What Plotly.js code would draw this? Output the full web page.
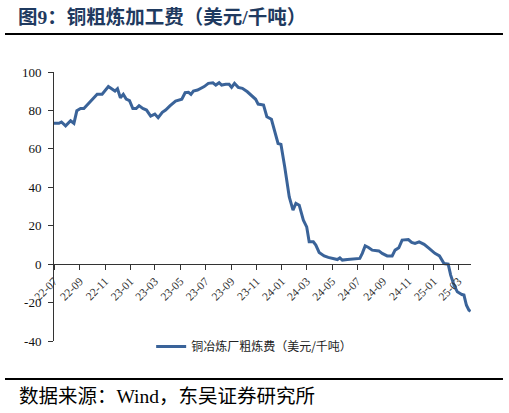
<!DOCTYPE html>
<html>
<head>
<meta charset="utf-8">
<script src="https://cdn.plot.ly/plotly-3.0.1.min.js"></script>
<style>html,body{margin:0;padding:0;background:#fff;}#chart{width:509px;height:413px;}</style>
</head>
<body>
<div id="chart"></div>
<script>
var dates = ["2022-07-01","2022-07-13","2022-07-19","2022-07-29","2022-08-10","2022-08-18","2022-08-25","2022-09-03","2022-09-11","2022-09-23",
"2022-10-13","2022-10-25","2022-11-09","2022-11-25","2022-12-01","2022-12-08","2022-12-15","2022-12-22","2022-12-30","2023-01-07",
"2023-01-15","2023-01-22","2023-01-31","2023-02-09","2023-02-19","2023-03-01","2023-03-09","2023-03-19","2023-03-27","2023-04-07",
"2023-04-20","2023-05-05","2023-05-13","2023-05-21","2023-05-27","2023-06-02","2023-06-12","2023-06-28","2023-07-08","2023-07-19",
"2023-07-26","2023-08-03","2023-08-09","2023-08-19","2023-08-27","2023-09-02","2023-09-09","2023-09-18","2023-09-28","2023-10-10",
"2023-10-22","2023-10-30","2023-11-05","2023-11-18","2023-11-26","2023-12-07","2023-12-23","2023-12-30","2024-01-08","2024-01-19",
"2024-01-28","2024-02-04","2024-02-12","2024-02-22","2024-03-01","2024-03-07","2024-03-17","2024-03-23","2024-03-31","2024-04-12",
"2024-04-22","2024-05-06","2024-05-14","2024-05-20","2024-05-26","2024-06-07","2024-06-23","2024-07-07","2024-07-13","2024-07-20",
"2024-07-28","2024-08-06","2024-08-22","2024-08-30","2024-09-11","2024-09-23","2024-09-30","2024-10-09","2024-10-17","2024-11-01",
"2024-11-09","2024-11-17","2024-11-27","2024-12-09","2024-12-21","2025-01-04","2025-01-15","2025-01-26","2025-02-05","2025-02-11",
"2025-02-19","2025-02-27","2025-03-10","2025-03-15","2025-03-21","2025-03-27","2025-03-31"];
var tcFees = [73.3,73.3,74,72,74.6,73.3,79.8,81,81,83.7,
88.4,88.4,92.4,90.1,91.3,86.6,88.4,85.9,85.1,81,
81,82.5,81,80.2,77.1,78.1,76.2,79,80.2,82.5,
84.9,85.8,89.2,89.4,88.4,90.1,90.6,92.4,94.1,94.4,
93.2,94.4,93.2,93.6,93.6,92,94.1,92,91.5,89.7,
87.1,85.8,83.3,82.8,76.7,75.4,62.8,62.3,50.7,35,
28.1,31.6,30.7,22.9,19.4,11.6,11.6,9.9,6.1,4.3,
3.5,3,2.4,3.3,2.1,2.4,2.6,3,5.6,9.5,
8.7,7.3,6.9,5.6,4.3,4.3,7.3,8.5,12.5,12.8,
11.3,10.8,11.6,10.3,8.2,5.6,4.3,0.3,0,-5.7,
-10.9,-14.4,-15.8,-16.1,-21.4,-24,-24.5];
var yTickVals = [-40,-20,0,20,40,60,80,100];
var yTickText = ["-40","-20","0","20","40","60","80","100"];
var seriesName = "铜冶炼厂粗炼费（美元/千吨）";
var titleText = "<b>图9：铜粗炼加工费（美元/千吨）</b>";
var sourceText = "数据来源：Wind，东吴证券研究所";

var serif = "Liberation Serif, 'Noto Sans CJK SC', serif";
var trace = {
  x: dates, y: tcFees, type: "scatter", mode: "lines", name: seriesName,
  line: {color: "#3a6399", width: 3}
};
var layout = {
  width: 509, height: 413,
  margin: {l: 54, r: 38, t: 72, b: 72},
  paper_bgcolor: "#fff", plot_bgcolor: "#fff",
  title: {text: titleText, x: 18/509, xanchor: "left", y: 1 - 17/413, yanchor: "middle",
    font: {family: serif, size: 19.5, color: "#1f3a60"}},
  xaxis: {
    type: "date", range: ["2022-07-01", "2025-04-01"],
    anchor: "free", position: 40/140,
    tick0: "2022-07-01", dtick: "M2", tickformat: "%y-%m", tickangle: -45,
    showline: true, linecolor: "#333", linewidth: 1,
    ticks: "outside", ticklen: 5, tickcolor: "#333",
    showgrid: false, zeroline: false,
    tickfont: {family: serif, size: 11.5, color: "#333"}
  },
  yaxis: {
    range: [-40, 100], tickvals: yTickVals, ticktext: yTickText,
    showline: true, linecolor: "#333", linewidth: 1,
    ticks: "outside", ticklen: 5, tickcolor: "#333", ticklabelstandoff: 4,
    showgrid: false, zeroline: false,
    tickfont: {family: serif, size: 13, color: "#111"}
  },
  showlegend: true,
  legend: {orientation: "h", x: 0.48, xanchor: "center", y: -0.02, yanchor: "middle",
    font: {family: "'Noto Sans CJK SC', sans-serif", size: 12, color: "#222"}, bgcolor: "rgba(0,0,0,0)"},
  shapes: [
    {type: "line", xref: "paper", yref: "paper", x0: -0.1175, x1: 1.0767, y0: 1.1413, y1: 1.1413,
      line: {color: "#000", width: 2}},
    {type: "line", xref: "paper", yref: "paper", x0: -0.1175, x1: 1.0767, y0: -0.1413, y1: -0.1413,
      line: {color: "#000", width: 2}}
  ],
  annotations: [
    {text: sourceText, xref: "paper", yref: "paper", x: -0.0887, y: -0.208, xanchor: "left", yanchor: "middle",
      showarrow: false, font: {family: serif, size: 19.5, color: "#000"}}
  ]
};
Plotly.newPlot("chart", [trace], layout, {displayModeBar: false, staticPlot: true});
</script>
</body>
</html>
